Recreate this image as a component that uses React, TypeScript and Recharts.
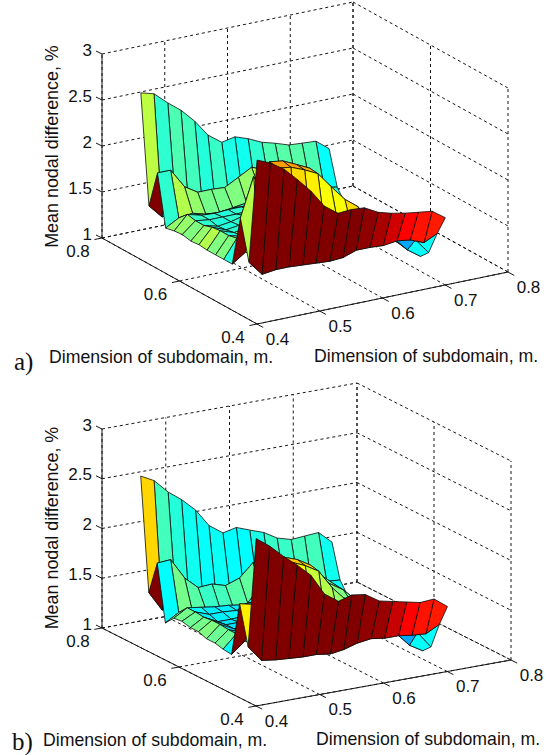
import { Scatter, ScatterChart, XAxis, YAxis } from 'recharts'

// subdomain dimensions of the surface grid
const xGrid = [0.41, 0.431, 0.453, 0.474, 0.496, 0.517, 0.539, 0.56, 0.581, 0.603, 0.624, 0.646, 0.667, 0.689, 0.71]
const yGrid = [0.716, 0.695, 0.673, 0.652, 0.63, 0.609, 0.587, 0.566, 0.545, 0.523, 0.502, 0.48, 0.459, 0.437, 0.416]

const xTicks = [0.4, 0.5, 0.6, 0.7, 0.8]
const yTicks = [0.4, 0.6, 0.8]
const zTicks = [1, 1.5, 2, 2.5, 3]

// mean nodal difference, one row per yGrid value
const surfaceA = [
  [2.76, 2.72, 2.59, 2.48, 2.33, 2.15, 2.04, 2.07, 2.02, 1.95, 1.91, 1.86, 1.85, 1.84, 1.73],
  [1.58, 1.43, 1.48, 1.42, 1.39, 1.38, 1.41, 1.43, 1.46, 1.48, 1.5, 1.47, 1.44, 1.39, 1.36],
  [1.99, 1.99, 1.78, 1.69, 1.69, 1.68, 1.76, 1.84, 1.78, 1.69, 1.63, 1.67, 1.6, 1.41, 1.22],
  [1.44, 1.52, 1.54, 1.5, 1.49, 1.51, 1.53, 1.64, 1.65, 1.63, 1.58, 1.57, 1.52, 1.38, 1.24],
  [1.46, 1.61, 1.57, 1.56, 1.57, 1.57, 1.58, 1.64, 1.61, 1.54, 1.49, 1.46, 1.4, 1.32, 1.24],
  [1.47, 1.59, 1.57, 1.57, 1.57, 1.58, 1.61, 1.63, 1.55, 1.52, 1.49, 1.46, 1.4, 1.34, 1.2],
  [1.45, 1.59, 1.55, 1.57, 1.61, 1.61, 1.58, 1.57, 1.54, 1.51, 1.48, 1.45, 1.4, 1.34, 1.2],
  [1.46, 1.62, 1.56, 1.58, 1.61, 1.6, 1.6, 1.57, 1.54, 1.51, 1.48, 1.45, 1.38, 1.31, 1.19],
  [1.45, 1.63, 1.58, 1.6, 1.6, 1.95, 1.94, 1.91, 1.84, 1.72, 1.6, 1.53, 1.39, 1.3, 1.19],
  [1.45, 1.63, 1.59, 1.95, 2.34, 2.32, 2.25, 2.18, 2.02, 1.84, 1.69, 1.55, 1.41, 1.3, 1.21],
  [1.45, 1.65, 1.6, 1.62, 2.32, 2.3, 2.24, 2.17, 2.0, 1.83, 1.72, 1.49, 1.35, 1.23, 1.2],
  [1.45, 1.55, 1.49, 1.46, 1.43, 1.4, 1.42, 1.5, 1.55, 1.49, 1.41, 1.34, 1.37, 1.21, 1.11],
  [2.0, 2.42, 2.13, 2.05, 1.97, 1.93, 1.9, 1.82, 1.73, 1.7, 1.62, 1.53, 1.44, 1.37, 1.2],
  [1.57, 1.41, 1.43, 1.43, 1.42, 1.41, 1.4, 1.41, 1.46, 1.46, 1.45, 1.47, 1.45, 1.39, 1.46],
  [2.73, 2.67, 2.57, 2.43, 2.27, 2.08, 1.97, 1.98, 1.97, 1.89, 1.85, 1.82, 1.8, 1.78, 1.68],
]

const surfaceB = [
  [2.68, 2.61, 2.47, 2.37, 2.24, 2.06, 1.96, 1.99, 1.94, 1.89, 1.81, 1.77, 1.78, 1.79, 1.67],
  [1.55, 1.35, 1.37, 1.33, 1.3, 1.29, 1.32, 1.35, 1.38, 1.35, 1.32, 1.3, 1.27, 1.34, 1.33],
  [1.89, 1.9, 1.69, 1.57, 1.58, 1.54, 1.59, 1.72, 1.67, 1.6, 1.52, 1.52, 1.47, 1.35, 1.2],
  [1.33, 1.41, 1.38, 1.38, 1.37, 1.35, 1.38, 1.53, 1.56, 1.53, 1.49, 1.48, 1.43, 1.34, 1.21],
  [1.42, 1.5, 1.48, 1.46, 1.45, 1.43, 1.44, 1.53, 1.5, 1.46, 1.4, 1.37, 1.32, 1.26, 1.18],
  [1.43, 1.5, 1.45, 1.45, 1.44, 1.46, 1.49, 1.49, 1.47, 1.44, 1.4, 1.37, 1.32, 1.28, 1.18],
  [1.41, 1.49, 1.42, 1.42, 1.43, 1.45, 1.48, 1.49, 1.46, 1.44, 1.41, 1.39, 1.33, 1.28, 1.19],
  [1.41, 1.5, 1.43, 1.43, 1.44, 1.48, 1.49, 1.51, 1.48, 1.45, 1.43, 1.4, 1.34, 1.29, 1.18],
  [1.38, 1.5, 1.43, 1.43, 1.46, 1.73, 1.76, 1.77, 1.72, 1.59, 1.49, 1.43, 1.34, 1.26, 1.17],
  [1.38, 1.49, 1.44, 1.73, 1.86, 2.12, 2.07, 1.99, 1.79, 1.63, 1.56, 1.45, 1.36, 1.27, 1.18],
  [1.36, 1.49, 1.44, 1.48, 1.85, 2.11, 2.05, 1.97, 1.78, 1.63, 1.56, 1.43, 1.3, 1.16, 1.15],
  [1.35, 1.46, 1.39, 1.36, 1.33, 1.31, 1.33, 1.4, 1.44, 1.39, 1.32, 1.26, 1.27, 1.12, 1.04],
  [1.9, 1.87, 1.88, 1.86, 1.83, 1.81, 1.73, 1.66, 1.59, 1.56, 1.5, 1.44, 1.35, 1.29, 1.12],
  [1.51, 1.35, 1.33, 1.32, 1.31, 1.31, 1.29, 1.31, 1.35, 1.37, 1.35, 1.35, 1.33, 1.32, 1.39],
  [2.64, 2.54, 2.41, 2.3, 2.17, 1.96, 1.86, 1.9, 1.88, 1.79, 1.76, 1.73, 1.7, 1.71, 1.61],
]

// colour level (0-1 on the jet map) of each facet
const levelsA = [
  [0.56, 0.42, 0.45, 0.44, 0.41, 0.43, 0.4, 0.39, 0.42, 0.45, 0.46, 0.46, 0.45, 0.38],
  [1, 0.5, 0.5, 0.5, 0.5, 0.5, 0.5, 0.5, 0.5, 0.5, 0.5, 0.5, 0.5, 0.4],
  [0.42, 0.55, 0.52, 0.49, 0.49, 0.5, 0.52, 0.55, 0.55, 0.55, 0.55, 0.55, 0.5, 0.45],
  [0.52, 0.44, 0.43, 0.43, 0.43, 0.42, 0.42, 0.5, 0.55, 0.55, 0.55, 0.55, 0.55, 0.5],
  [0.52, 0.43, 0.42, 0.41, 0.42, 0.42, 0.45, 0.5, 0.55, 0.55, 0.55, 0.55, 0.55, 0.55],
  [0.5, 0.42, 0.41, 0.42, 0.43, 0.45, 0.5, 0.5, 0.55, 0.55, 0.55, 0.55, 0.55, 0.55],
  [0.52, 0.41, 0.41, 0.42, 0.45, 0.5, 0.5, 0.55, 0.55, 0.55, 0.55, 0.55, 0.55, 0.55],
  [0.55, 0.41, 0.42, 0.45, 0.5, 0.55, 0.55, 0.55, 0.55, 0.55, 0.55, 0.55, 0.55, 0.55],
  [0.5, 0.41, 0.5, 0.55, 0.7, 0.7, 0.7, 0.62, 0.56, 0.56, 0.55, 0.55, 0.55, 0.55],
  [0.5, 0.45, 0.45, 0.72, 0.72, 0.72, 0.7, 0.62, 0.56, 0.56, 0.55, 0.55, 0.55, 0.55],
  [0.41, 0.45, 0.5, 0.6, 0.68, 0.66, 0.64, 0.62, 0.62, 0.66, 0.66, 0.55, 0.29, 0.29],
  [1, 0.6, 0.6, 0.6, 0.6, 0.6, 0.6, 0.6, 0.6, 0.6, 0.6, 0.6, 0.29, 0.38],
  [0.55, 0.6, 0.6, 0.6, 0.6, 0.6, 0.6, 0.6, 0.6, 0.6, 0.6, 0.6, 0.38, 0.38],
  [1, 1, 1, 1, 1, 1, 1, 1, 0.985, 0.96, 0.92, 0.875, 0.857, 0.85],
]

const levelsB = [
  [0.665, 0.44, 0.41, 0.39, 0.38, 0.385, 0.375, 0.375, 0.4, 0.43, 0.43, 0.44, 0.44, 0.39],
  [1, 0.45, 0.45, 0.45, 0.45, 0.45, 0.45, 0.45, 0.45, 0.45, 0.45, 0.45, 0.45, 0.38],
  [0.375, 0.49, 0.46, 0.43, 0.44, 0.46, 0.47, 0.5, 0.5, 0.5, 0.5, 0.5, 0.47, 0.42],
  [0.48, 0.375, 0.37, 0.37, 0.37, 0.37, 0.37, 0.45, 0.5, 0.5, 0.5, 0.5, 0.5, 0.47],
  [0.49, 0.375, 0.36, 0.36, 0.36, 0.37, 0.4, 0.45, 0.5, 0.5, 0.5, 0.5, 0.5, 0.5],
  [0.48, 0.36, 0.36, 0.37, 0.38, 0.4, 0.45, 0.45, 0.5, 0.5, 0.5, 0.5, 0.5, 0.5],
  [0.49, 0.36, 0.35, 0.37, 0.4, 0.45, 0.45, 0.5, 0.5, 0.5, 0.5, 0.5, 0.5, 0.5],
  [0.5, 0.35, 0.35, 0.4, 0.45, 0.5, 0.5, 0.5, 0.5, 0.5, 0.5, 0.5, 0.5, 0.5],
  [0.48, 0.35, 0.4, 0.45, 0.66, 0.68, 0.67, 0.57, 0.55, 0.52, 0.5, 0.5, 0.5, 0.5],
  [0.48, 0.36, 0.36, 0.66, 0.68, 0.68, 0.67, 0.57, 0.55, 0.52, 0.5, 0.5, 0.5, 0.5],
  [0.38, 0.4, 0.45, 0.55, 0.66, 0.62, 0.57, 0.55, 0.52, 0.5, 0.5, 0.45, 0.29, 0.29],
  [1, 0.45, 0.45, 0.45, 0.45, 0.45, 0.45, 0.45, 0.45, 0.45, 0.45, 0.45, 0.29, 0.38],
  [0.64, 0.6, 0.6, 0.6, 0.6, 0.6, 0.6, 0.6, 0.6, 0.6, 0.6, 0.6, 0.38, 0.38],
  [1, 1, 1, 1, 1, 1, 1, 1, 0.985, 0.975, 0.93, 0.875, 0.857, 0.85],
]

const WIDTH = 550
const HEIGHT = 755
const INK = '#161616'

type Pt = { px: number; py: number }
type Box = { ox: number; oy: number; xdx: number; xdy: number; ydx: number; ydy: number; zh: number }

// oblique view of the matlab box, front corner is x=0.4 y=0.4 z=1
const boxA: Box = { ox: 257, oy: 324, xdx: 251, xdy: -52, ydx: -155, ydy: -86, zh: 184 }
const boxB: Box = { ox: 256, oy: 706, xdx: 255, xdy: -46, ydx: -154, ydy: -78, zh: 199 }

const project = (b: Box, x: number, y: number, z: number): Pt => {
  const u = (x - 0.4) / 0.4
  const v = (y - 0.4) / 0.4
  return {
    px: b.ox + u * b.xdx + v * b.ydx,
    py: b.oy + u * b.xdy + v * b.ydy - ((z - 1) / 2) * b.zh,
  }
}

const ramp = (t: number) => Math.round(255 * Math.max(0, Math.min(1, t)))

function jet(v: number) {
  const r = v < 0.875 ? (v - 0.375) / 0.25 : 1 - (v - 0.875) * 4
  const g = v < 0.625 ? (v - 0.125) / 0.25 : (0.875 - v) / 0.25
  const b = v < 0.375 ? 0.5 + v * 4 : (0.625 - v) / 0.25
  return `rgb(${ramp(r)},${ramp(g)},${ramp(b)})`
}

const noDot = () => null

function segment(key: string, pts: Pt[], stroke: string, width: number, dash?: string) {
  return (
    <Scatter
      key={key}
      data={pts}
      shape={noDot}
      line={{ stroke, strokeWidth: width, strokeDasharray: dash }}
      isAnimationActive={false}
    />
  )
}

function label(
  key: string,
  at: Pt,
  text: string,
  opts: { size?: number; anchor?: 'start' | 'middle' | 'end'; rotate?: number; family?: string } = {},
) {
  const { size = 17, anchor = 'middle', rotate, family = '"Liberation Sans", Arial, sans-serif' } = opts
  return (
    <Scatter
      key={key}
      data={[at]}
      isAnimationActive={false}
      shape={(p: any) => (
        <text
          x={p.cx}
          y={p.cy}
          fontSize={size}
          fontFamily={family}
          fill="#111"
          textAnchor={anchor}
          dominantBaseline="central"
          transform={rotate ? `rotate(${rotate} ${p.cx} ${p.cy})` : undefined}
        >
          {text}
        </text>
      )}
    />
  )
}

function gridLines(id: string, b: Box) {
  const out: any[] = []
  const dash = '3 3'
  xTicks.forEach((x) => {
    out.push(segment(`${id}fx${x}`, [project(b, x, 0.4, 1), project(b, x, 0.8, 1)], INK, 1, dash))
    out.push(segment(`${id}vx${x}`, [project(b, x, 0.8, 1), project(b, x, 0.8, 3)], INK, 1, dash))
  })
  yTicks.forEach((y) => {
    out.push(segment(`${id}fy${y}`, [project(b, 0.4, y, 1), project(b, 0.8, y, 1)], INK, 1, dash))
    out.push(segment(`${id}vy${y}`, [project(b, 0.8, y, 1), project(b, 0.8, y, 3)], INK, 1, dash))
  })
  zTicks.forEach((z) => {
    out.push(segment(`${id}zb${z}`, [project(b, 0.4, 0.8, z), project(b, 0.8, 0.8, z)], INK, 1, dash))
    out.push(segment(`${id}zr${z}`, [project(b, 0.8, 0.8, z), project(b, 0.8, 0.4, z)], INK, 1, dash))
  })
  return out
}

function axes(id: string, b: Box) {
  const out: any[] = []
  out.push(segment(`${id}ax`, [project(b, 0.4, 0.4, 1), project(b, 0.8, 0.4, 1)], INK, 1))
  out.push(segment(`${id}ay`, [project(b, 0.4, 0.4, 1), project(b, 0.4, 0.8, 1)], INK, 1))
  out.push(segment(`${id}az`, [project(b, 0.4, 0.8, 1), project(b, 0.4, 0.8, 3)], INK, 1))
  xTicks.forEach((x) => {
    const p = project(b, x, 0.4, 1)
    out.push(segment(`${id}tx${x}`, [p, project(b, x, 0.384, 1)], INK, 1))
    out.push(label(`${id}lx${x}`, { px: p.px + 20.5, py: p.py + 15 }, x.toFixed(1)))
  })
  yTicks.forEach((y) => {
    const p = project(b, 0.4, y, 1)
    out.push(segment(`${id}ty${y}`, [p, project(b, 0.388, y, 1)], INK, 1))
    out.push(label(`${id}ly${y}`, { px: p.px - 24, py: p.py + 13 }, y.toFixed(1)))
  })
  zTicks.forEach((z) => {
    const p = project(b, 0.4, 0.8, z)
    out.push(segment(`${id}tz${z}`, [p, { px: p.px - 6, py: p.py - 3 }], INK, 1))
    out.push(label(`${id}lz${z}`, { px: p.px - 10, py: p.py - 4 }, String(z), { anchor: 'end' }))
  })
  return out
}

// facets back row first, near column last, so nearer ones paint over
function facets(id: string, b: Box, surface: number[][], levels: number[][]) {
  const out: any[] = []
  levels.forEach((row, i) => {
    for (let j = row.length - 1; j >= 0; j--) {
      const corner = (r: number, c: number) => project(b, xGrid[c], yGrid[r], surface[r][c])
      const a = corner(i, j)
      out.push(
        <Scatter
          key={`${id}f${i}-${j}`}
          data={[a, corner(i, j + 1), corner(i + 1, j + 1), corner(i + 1, j), a]}
          shape={noDot}
          line={{ stroke: '#0c0c0c', strokeWidth: 0.8, fill: jet(row[j]) }}
          isAnimationActive={false}
        />,
      )
    }
  })
  return out
}

export default function App() {
  return (
    <div style={{ position: 'absolute', left: 0, top: 0, width: WIDTH, height: HEIGHT, background: '#fff' }}>
      <ScatterChart width={WIDTH} height={HEIGHT} margin={{ top: 0, right: 0, bottom: 0, left: 0 }}>
        <XAxis type="number" dataKey="px" domain={[0, WIDTH]} hide />
        <YAxis type="number" dataKey="py" domain={[0, HEIGHT]} reversed hide />

        {gridLines('a', boxA)}
        {facets('a', boxA, surfaceA, levelsA)}
        {axes('a', boxA)}
        {label('am', { px: 52, py: 146.5 }, 'Mean nodal difference, %', { rotate: -90, size: 17.9 })}
        {label('ad1', { px: 49, py: 357 }, 'Dimension of subdomain, m.', { anchor: 'start', size: 17.7 })}
        {label('ad2', { px: 314, py: 356 }, 'Dimension of subdomain, m.', { anchor: 'start', size: 17.7 })}
        {label('at', { px: 14, py: 361 }, 'a)', { anchor: 'start', size: 25, family: '"Liberation Serif", serif' })}

        {gridLines('b', boxB)}
        {facets('b', boxB, surfaceB, levelsB)}
        {axes('b', boxB)}
        {label('bm', { px: 52, py: 528 }, 'Mean nodal difference, %', { rotate: -90, size: 17.9 })}
        {label('bd1', { px: 43, py: 740 }, 'Dimension of subdomain, m.', { anchor: 'start', size: 17.7 })}
        {label('bd2', { px: 316, py: 739 }, 'Dimension of subdomain, m.', { anchor: 'start', size: 17.7 })}
        {label('bt', { px: 12, py: 741 }, 'b)', { anchor: 'start', size: 25, family: '"Liberation Serif", serif' })}
      </ScatterChart>
    </div>
  )
}
